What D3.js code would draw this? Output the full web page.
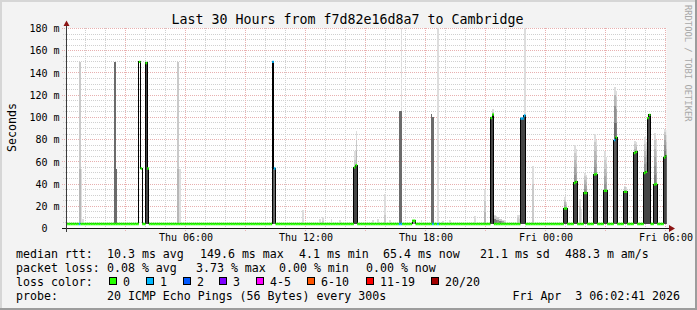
<!DOCTYPE html>
<html>
<head>
<meta charset="utf-8">
<script src="https://cdn.jsdelivr.net/npm/d3@7"></script>
<style>
  body { margin: 0; background: #f3f3f3; }
  svg { display: block; }
  svg text { font-family: "DejaVu Sans Mono", monospace; white-space: pre; }
</style>
</head>
<body>
<div id="chart"></div>
<script>
//chart values
var graphStart = "2026-04-02 00:02:41",
    graphEnd = "2026-04-03 06:02:41";
var pingsPerStep = 20;
var baseRtt = 4.1; // ms, median between the spikes

//5 minute steps that are not plain baseline
var eventTimes = [
  "Thu 00:40", "Thu 00:45", "Thu 00:50", "Thu 02:25", "Thu 02:30",
  "Thu 03:40", "Thu 03:45", "Thu 04:00", "Thu 04:05", "Thu 05:35", "Thu 05:40",
  "Thu 10:20", "Thu 10:25", "Thu 11:50", "Thu 12:40", "Thu 12:50", "Thu 13:15", "Thu 13:40",
  "Thu 14:25", "Thu 14:30", "Thu 15:20", "Thu 15:35", "Thu 15:55", "Thu 16:10",
  "Thu 16:40", "Thu 16:45", "Thu 17:20", "Thu 17:25", "Thu 17:45",
  "Thu 18:15", "Thu 18:20", "Thu 18:35", "Thu 18:50", "Thu 19:10",
  "Thu 20:25", "Thu 20:55", "Thu 21:15", "Thu 21:20",
  "Thu 21:25", "Thu 21:30", "Thu 21:35", "Thu 21:40", "Thu 21:45", "Thu 21:50", "Thu 21:55",
  "Thu 22:35", "Thu 22:40", "Thu 22:45", "Thu 22:50", "Thu 22:55", "Thu 23:20",
  "Fri 00:55", "Fri 01:00", "Fri 01:25", "Fri 01:30", "Fri 01:40", "Fri 01:45",
  "Fri 01:55", "Fri 02:00", "Fri 02:25", "Fri 02:30", "Fri 02:55", "Fri 03:00",
  "Fri 03:25", "Fri 03:30", "Fri 03:55", "Fri 04:00", "Fri 04:25", "Fri 04:30",
  "Fri 04:55", "Fri 05:00", "Fri 05:05", "Fri 05:10", "Fri 05:25", "Fri 05:30",
  "Fri 05:55", "Fri 06:00"
];

//pings of each step as [rtt ms, count]; fewer than 20 pings means loss
var eventPings = [
  [[4.1,16],[54,1],[150,2]], [[4.1,19],[54,1]], [[4.1,19],[9,1]],
  [[4.1,13],[150,7]], [[4.1,13],[54,7]],
  [[150,20]], [[54,20]], [[4.1,9],[149,11]], [[4.1,9],[54,11]],
  [[4.1,17],[54,1],[150,2]], [[4.1,19],[54,1]],
  [[4.1,8],[150,11]], [[4.1,7],[54,12]],
  [[4.1,19],[17,1]], [[4.1,19],[9,1]], [[4.1,18],[7,1],[10,1]], [[4.1,19],[9,1]], [[4.1,19],[8,1]],
  [[4.1,9],[55,9],[62,1],[70,1]], [[4.1,9],[57,8],[70,1],[80,1],[88,1]],
  [[4.1,19],[8,1]], [[4.1,19],[9,1]], [[4.1,18],[12,1],[31,1]], [[4.1,19],[8,1]],
  [[4.1,12],[106,7]], [[4.1,12],[106,6],[200,1]],
  [[4.1,5],[7,15]], [[4.1,5],[7,15]], [[4.1,19],[8,1]],
  [[4.1,13],[103,7]], [[4.1,12],[100,7]], [[4.1,18],[200,1]], [[4.1,19],[7,1]], [[4.1,19],[8,1]],
  [[4.1,19],[11,1]], [[4.1,17],[15,1],[25,1],[36,1]],
  [[4.1,9],[99.5,11]], [[4.1,9],[102.6,9],[105,1],[108,1]],
  [[4.1,14],[9,4],[11,1],[12,1]], [[4.1,14],[8,4],[10,1],[11,1]], [[4.1,15],[8,3],[10,2]],
  [[4.1,14],[7,4],[9,2]], [[4.1,15],[7,3],[9,2]], [[4.1,16],[7,3],[8,1]], [[4.1,17],[6,2],[8,1]],
  [[4.1,18],[10,1],[12,1]], [[4.1,18],[9,1],[12,1]],
  [[4.1,9],[99,10]], [[4.1,9],[99,10]], [[4.1,9],[101.7,9],[200,1]],
  [[4.1,18],[40,1],[56,1]],
  [[4.1,9],[18,7],[21,1],[24,1],[26,1],[28,1]], [[4.1,9],[18,8],[20,1],[22,1],[24,1]],
  [[4.1,9],[41,6],[48,1],[55,1],[62,1],[68,1],[75,1]], [[4.1,9],[42,7],[50,1],[58,1],[65,1],[72,1]],
  [[4.1,18],[20,1],[27,1]], [[4.1,19],[18,1]],
  [[4.1,9],[32,6],[36,1],[40,1],[44,1],[47,1],[50,1]], [[4.1,9],[32,7],[38,1],[42,1],[46,1],[48,1]],
  [[4.1,9],[48.6,6],[55,1],[62,1],[70,1],[78,1],[85.5,1]], [[4.1,9],[49,7],[58,1],[66,1],[74,1],[80,1]],
  [[4.1,9],[34,6],[40,1],[47,1],[54,1],[62,1],[70,1]], [[4.1,9],[34,7],[42,1],[50,1],[58,1],[64,1]],
  [[4.1,8],[79.5,4],[95,2],[110,2],[120,2],[127,1]], [[4.1,9],[82,5],[95,2],[108,2],[118,1],[124,1]],
  [[4.1,9],[33,8],[35,1],[37,1],[38,1]], [[4.1,9],[33,9],[35,1],[37,1]],
  [[4.1,9],[68,8],[72,1],[76,1],[79,1]], [[4.1,9],[69,8],[73,1],[75,1],[78,1]],
  [[4.1,9],[50,6],[58,1],[64,1],[70,1],[76,1],[82,1]], [[4.1,9],[51,7],[60,1],[66,1],[72,1],[78,1]],
  [[4.1,9],[99.3,11]], [[4.1,9],[102.3,11]],
  [[4.1,9],[39.6,5],[48,1],[56,1],[64,1],[72,1],[80,1],[86,1]], [[4.1,9],[40,7],[50,1],[60,1],[70,1],[80,1]],
  [[4.1,9],[64,5],[70,1],[75,1],[80,1],[84,1],[87,1],[90,1]], [[4.1,9],[65.4,7],[72,1],[78,1],[84,1],[89,1]]
];

var lossLabels = ["0", "1", "2", "3", "4-5", "6-10", "11-19", "20/20"];
var lossUpper = [0, 1, 2, 3, 5, 10, 19, 20];
var lossColors = ["#26ff00", "#00b8ff", "#0059ff", "#7e00ff", "#ff00ff", "#ff5500", "#ff0000", "#a10000"];

var xLabelTimes = ["2026-04-02 06:00", "2026-04-02 12:00", "2026-04-02 18:00", "2026-04-03 00:00", "2026-04-03 06:00"];
var yLabelValues = [0, 20, 40, 60, 80, 100, 120, 140, 160, 180];

var titleText = "Last 30 Hours from f7d82e16d8a7 to Cambridge";
var rttStats = ["median rtt:", "10.3 ms avg", "149.6 ms max", "4.1 ms min", "65.4 ms now", "21.1 ms sd", "488.3 m am/s"];
var lossStats = ["packet loss:", "0.08 % avg", "3.73 % max", "0.00 % min", "0.00 % now"];
var probeText = ["probe:", "20 ICMP Echo Pings (56 Bytes) every 300s"];
var stampText = "Fri Apr  3 06:02:41 2026";

//size of the picture and plot
var W = 697, H = 310;
var plot = {left: 66.4, right: 666.4, top: 28.5, bottom: 228.5};

var parseFull = d3.timeParse("%Y-%m-%d %H:%M:%S"),
    parseMin = d3.timeParse("%Y-%m-%d %H:%M"),
    stepKey = d3.timeFormat("%a %H:%M");

var t0 = parseFull(graphStart), t1 = parseFull(graphEnd);

var x = d3.scaleTime().domain([t0, t1]).range([plot.left, plot.right]);
var y = d3.scaleLinear().domain([0, 180]).range([plot.bottom, plot.top]);

//build the 5 minute series
var eventIndex = new Map(eventTimes.map(function(t, i) { return [t, i]; }));
var steps = d3.timeMinute.every(5).range(d3.timeHour.floor(t0), t1);
var series = steps.map(function(t) {
  var i = eventIndex.get(stepKey(t));
  var pings = i === undefined ? [[baseRtt, pingsPerStep]] : eventPings[i];
  var vals = [];
  pings.forEach(function(p) { for (var k = 0; k < p[1]; k++) vals.push(p[0]); });
  vals.sort(d3.ascending);
  return {t0: t, t1: d3.timeMinute.offset(t, 5), vals: vals,
          median: d3.median(vals), loss: pingsPerStep - vals.length};
});

function lossColor(n) {
  for (var i = 0; i < lossUpper.length; i++) if (n <= lossUpper[i]) return lossColors[i];
  return lossColors[lossColors.length - 1];
}

var svg = d3.select("#chart").append("svg")
    .attr("width", W).attr("height", H);

//background and 3d frame
svg.append("rect").attr("width", W).attr("height", H).attr("fill", "#f3f3f3");
svg.append("rect").attr("x", 0).attr("y", 0).attr("width", W).attr("height", 2).attr("fill", "#d6d6d6");
svg.append("rect").attr("x", 0).attr("y", 0).attr("width", 2).attr("height", H).attr("fill", "#d6d6d6");
svg.append("rect").attr("x", 0).attr("y", H - 2).attr("width", W).attr("height", 2).attr("fill", "#9c9c9c");
svg.append("rect").attr("x", W - 2).attr("y", 0).attr("width", 2).attr("height", H).attr("fill", "#9c9c9c");

//canvas
svg.append("rect")
    .attr("x", plot.left).attr("y", 28)
    .attr("width", plot.right - plot.left).attr("height", plot.bottom - 28)
    .attr("fill", "#ffffff");

svg.append("clipPath").attr("id", "plotclip").append("rect")
    .attr("x", plot.left).attr("y", 28)
    .attr("width", plot.right - plot.left).attr("height", plot.bottom - 28);

//grid
var grid = svg.append("g").attr("shape-rendering", "crispEdges");
var majorX = x.ticks(d3.timeHour.every(3)),
    minorX = x.ticks(d3.timeHour.every(1)).filter(function(t) { return t.getHours() % 3 !== 0; });
var majorY = d3.range(0, 181, 20),
    minorY = d3.range(0, 181, 5).filter(function(v) { return v % 20 !== 0; });

function px(v) { return Math.floor(v) + 0.5; }

var minorColor = "#d0d0d0", majorColor = "#e8b0b0";
grid.selectAll(".minor-x").data(minorX).enter().append("line")
    .attr("x1", function(d) { return px(x(d)); }).attr("x2", function(d) { return px(x(d)); })
    .attr("y1", 28).attr("y2", plot.bottom)
    .attr("stroke", minorColor).attr("stroke-dasharray", "1,1");
grid.selectAll(".minor-y").data(minorY).enter().append("line")
    .attr("x1", 63).attr("x2", plot.right)
    .attr("y1", function(d) { return px(y(d)); }).attr("y2", function(d) { return px(y(d)); })
    .attr("stroke", minorColor).attr("stroke-dasharray", "1,1");
grid.selectAll(".major-x").data(majorX).enter().append("line")
    .attr("x1", function(d) { return px(x(d)); }).attr("x2", function(d) { return px(x(d)); })
    .attr("y1", 28).attr("y2", 232)
    .attr("stroke", majorColor).attr("stroke-dasharray", "1,1");
grid.selectAll(".major-y").data(majorY.filter(function(v) { return v > 0; })).enter().append("line")
    .attr("x1", 62).attr("x2", plot.right)
    .attr("y1", function(d) { return px(y(d)); }).attr("y2", function(d) { return px(y(d)); })
    .attr("stroke", majorColor).attr("stroke-dasharray", "1,1");

//smoke: pairs of sorted pings, darker towards the median
var smoke = svg.append("g").attr("clip-path", "url(#plotclip)").attr("shape-rendering", "crispEdges");
series.forEach(function(d) {
  var n = d.vals.length;
  for (var k = 0; k < n - 1 - k; k++) {
    var lo = d.vals[k], hi = d.vals[n - 1 - k];
    if (hi <= lo) continue;
    var g = Math.floor(190 / 10 * (10 - (k + 1))) + 50;
    smoke.append("rect")
        .attr("x", x(d.t0)).attr("width", x(d.t1) - x(d.t0))
        .attr("y", y(hi)).attr("height", y(lo) - y(hi))
        .attr("fill", d3.rgb(g, g, g));
  }
});

//median: black step line, then loss coloured segments
var medianG = svg.append("g").attr("clip-path", "url(#plotclip)");
var last = series[series.length - 1];
var medianLine = d3.line()
    .x(function(d) { return x(d[0]); })
    .y(function(d) { return y(d[1]); })
    .curve(d3.curveStepAfter);
medianG.append("path")
    .datum(series.map(function(d) { return [d.t0, d.median]; }).concat([[last.t1, last.median]]))
    .attr("d", medianLine)
    .attr("fill", "none").attr("stroke", "#000").attr("stroke-width", 1)
    .attr("shape-rendering", "crispEdges");
medianG.selectAll(".seg").data(series).enter().append("line")
    .attr("x1", function(d) { return x(d.t0); }).attr("x2", function(d) { return x(d.t1); })
    .attr("y1", function(d) { return y(d.median); }).attr("y2", function(d) { return y(d.median); })
    .attr("stroke", function(d) { return lossColor(d.loss); })
    .attr("stroke-width", 2.4);

//axes
var axisColor = "#3a3a3a", arrowColor = "#8c1414";
svg.append("line").attr("x1", 62).attr("x2", 670).attr("y1", plot.bottom).attr("y2", plot.bottom)
    .attr("stroke", "#111").attr("shape-rendering", "crispEdges");
svg.append("line").attr("x1", 66.5).attr("x2", 66.5).attr("y1", 232).attr("y2", 25)
    .attr("stroke", axisColor).attr("shape-rendering", "crispEdges");
svg.append("path").attr("d", "M669,225L675,228.5L669,232Z").attr("fill", arrowColor);
svg.append("path").attr("d", "M63.5,26L66.5,20.5L69.5,26Z").attr("fill", arrowColor);

var xAxis = svg.append("g")
    .attr("transform", "translate(0," + plot.bottom + ")")
    .call(d3.axisBottom(x)
        .tickValues(xLabelTimes.map(function(s) { return parseMin(s); }))
        .tickSize(0).tickPadding(5)
        .tickFormat(d3.timeFormat("%a %H:%M")));
xAxis.select(".domain").remove();
xAxis.selectAll("text")
    .attr("font-family", "DejaVu Sans Mono").attr("font-size", "10px").attr("fill", "#000");

var yAxis = svg.append("g")
    .attr("transform", "translate(66.5,0)")
    .call(d3.axisLeft(y)
        .tickValues(yLabelValues)
        .tickSize(0).tickPadding(7)
        .tickFormat(function(v) { return v === 0 ? "0  " : v + " m"; }));
yAxis.select(".domain").remove();
yAxis.selectAll("text")
    .attr("font-family", "DejaVu Sans Mono").attr("font-size", "10px").attr("fill", "#000");

//title, axis label, watermark
svg.append("text").attr("x", 347.5).attr("y", 24)
    .attr("text-anchor", "middle").attr("font-size", "13.3px").attr("fill", "#000")
    .text(titleText);
svg.append("text").attr("transform", "translate(15.5,127.5) rotate(-90)")
    .attr("text-anchor", "middle").attr("font-size", "11.6px").attr("fill", "#000")
    .text("Seconds");
svg.append("text").attr("transform", "translate(685,5) rotate(90)")
    .attr("font-size", "8.8px").attr("fill", "#a8a8a8")
    .text("RRDTOOL / TOBI OETIKER");

//legend
var legend = svg.append("g").attr("font-size", "11.6px").attr("fill", "#000");
var rowY = [258, 272, 286, 300];
var rttX = [16, 107, 200, 299, 383, 480, 565],
    lossX = [16, 107, 196, 279, 366];
rttStats.forEach(function(s, i) {
  legend.append("text").attr("x", rttX[i]).attr("y", rowY[0]).text(s);
});
lossStats.forEach(function(s, i) {
  legend.append("text").attr("x", lossX[i]).attr("y", rowY[1]).text(s);
});
legend.append("text").attr("x", 16).attr("y", rowY[2]).text("loss color:");
var boxX = [109, 146, 183, 219, 256, 307, 366, 431];
lossLabels.forEach(function(s, i) {
  legend.append("rect")
      .attr("x", boxX[i] + 0.5).attr("y", rowY[2] - 8.5)
      .attr("width", 7).attr("height", 7)
      .attr("fill", lossColors[i]).attr("stroke", "#000");
  legend.append("text").attr("x", boxX[i] + 14).attr("y", rowY[2]).text(s);
});
legend.append("text").attr("x", 16).attr("y", rowY[3]).text(probeText[0]);
legend.append("text").attr("x", 107).attr("y", rowY[3]).text(probeText[1]);
legend.append("text").attr("x", 680).attr("y", rowY[3]).attr("text-anchor", "end").text(stampText);
</script>
</body>
</html>
